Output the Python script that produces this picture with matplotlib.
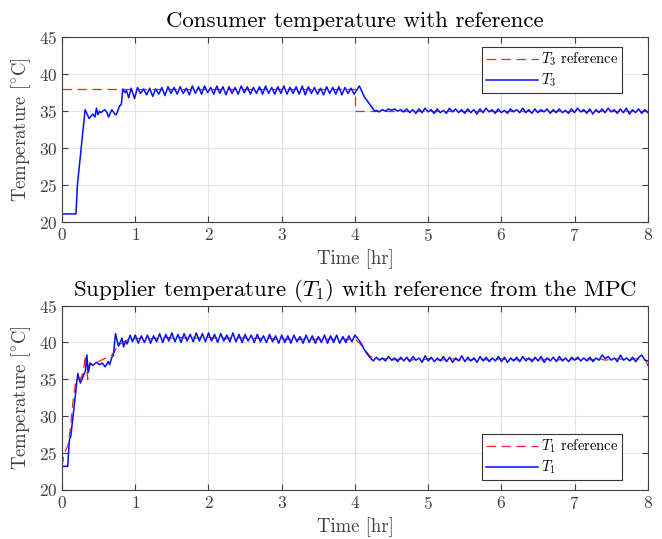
import matplotlib
matplotlib.use("Agg")
import matplotlib.pyplot as plt
import numpy as np

# ---- consumer temperature T3 (top panel) ----
t3_start_t = [0.00, 0.19, 0.21, 0.315, 0.37, 0.42, 0.45, 0.47, 0.49, 0.51, 0.53, 0.58, 0.61,
              0.635, 0.68, 0.72, 0.74, 0.785, 0.81, 0.83, 0.86, 0.88, 0.91, 0.945, 0.99]
t3_start_v = [21.1, 21.1, 25.0, 35.2, 34.0, 34.6, 34.2, 35.4, 34.5, 35.0, 34.8, 35.2, 34.9,
              34.2, 35.2, 34.6, 34.5, 35.7, 35.9, 38.0, 37.5, 37.8, 36.8, 38.1, 36.7]
# sampled every 2.5 min from 1.03 hr
t3_mid_v = [38.2, 37.4, 38.0, 37.2, 38.1, 37.0, 38.0, 37.3, 38.2, 37.1,
            38.3, 37.4, 38.2, 37.3, 38.3, 37.4, 38.1, 37.2, 38.4, 37.4,
            38.3, 37.3, 38.4, 37.5, 38.2, 37.3, 38.4, 37.4, 38.3, 37.2,
            38.3, 37.4, 38.2, 37.3, 38.4, 37.5, 38.3, 37.3, 38.2, 37.4,
            38.3, 37.3, 38.4, 37.4, 38.2, 37.3, 38.3, 37.4, 38.4, 37.3,
            38.2, 37.4, 38.3, 37.3, 38.4, 37.2, 38.3, 37.4, 38.2, 37.3,
            38.1, 37.2, 38.3, 37.4, 38.2, 37.3, 38.3, 37.2, 38.2, 37.4,
            38.1, 37.3]
t3_drop_t = [4.06, 4.13, 4.24, 4.27]
t3_drop_v = [38.4, 36.9, 35.4, 35.0]
# sampled every 2.5 min from 4.29 hr
t3_tail_v = [35.1, 34.9, 35.2, 35.0, 35.3, 35.1, 35.3, 35.0, 35.2, 34.9,
             35.3, 34.8, 35.2, 34.7, 35.3, 34.8, 35.4, 34.9, 35.2, 34.7,
             35.3, 34.8, 35.1, 34.7, 35.4, 34.9, 35.3, 34.8, 35.2, 34.7,
             35.3, 34.8, 35.2, 34.6, 35.3, 34.8, 35.4, 34.9, 35.2, 34.7,
             35.3, 34.8, 35.1, 34.7, 35.3, 34.9, 35.2, 34.8, 35.4, 34.8,
             35.2, 34.7, 35.3, 34.8, 35.2, 34.9, 35.3, 34.7, 35.2, 34.8,
             35.3, 34.8, 35.1, 34.7, 35.3, 34.8, 35.4, 34.9, 35.2, 34.7,
             35.3, 34.6, 35.2, 34.8, 35.3, 34.8, 35.4, 34.9, 35.2, 34.7,
             35.3, 34.8, 35.4, 34.6, 35.2, 34.8, 35.3, 34.7, 35.2, 34.8]
t3_ref_t = [0.0, 4.0, 4.0, 8.0]
t3_ref_v = [38.0, 38.0, 35.0, 35.0]

# ---- supplier temperature T1 (bottom panel) ----
t1_start_t = [0.00, 0.078, 0.10, 0.12, 0.215, 0.25, 0.28, 0.32, 0.34, 0.355, 0.38, 0.42, 0.47, 0.51,
              0.55, 0.59, 0.63, 0.65, 0.68, 0.70, 0.73, 0.77, 0.82, 0.84, 0.87, 0.89, 0.93, 0.96]
t1_start_v = [23.2, 23.2, 26.8, 27.3, 35.8, 34.5, 35.2, 36.2, 38.3, 35.9, 37.2, 36.9, 37.3, 37.0,
              37.2, 36.7, 37.4, 37.0, 38.0, 38.2, 41.2, 39.5, 40.6, 39.4, 40.2, 39.8, 41.0, 40.1]
# sampled every 2.5 min from 1.0 hr
t1_mid_v = [41.0, 39.9, 40.9, 40.0, 41.0, 39.9, 40.9, 40.1, 41.2, 40.0,
            41.1, 40.2, 41.3, 40.1, 41.1, 40.0, 41.2, 40.2, 41.1, 40.1,
            41.3, 40.2, 41.2, 40.1, 41.3, 40.2, 41.1, 40.0, 41.2, 40.2,
            41.0, 40.1, 41.3, 40.1, 41.1, 40.0, 41.1, 40.2, 41.0, 40.0,
            41.1, 40.1, 40.9, 40.0, 41.1, 40.1, 40.9, 39.9, 41.0, 40.0,
            40.9, 39.9, 41.0, 40.1, 40.8, 39.9, 41.0, 40.0, 40.9, 39.9,
            40.8, 40.0, 41.0, 39.9, 40.9, 40.0, 41.0, 39.9, 40.8, 40.0,
            40.9, 40.1, 41.0]
t1_drop_t = [4.05, 4.10, 4.13, 4.17, 4.20, 4.23]
t1_drop_v = [40.4, 39.6, 39.0, 38.4, 38.0, 37.7]
# sampled every 2.5 min from 4.25 hr
t1_tail_v = [37.5, 38.0, 37.6, 37.9, 37.5, 38.1, 37.6, 37.9, 37.4, 38.0,
             37.5, 38.0, 37.4, 38.1, 37.6, 37.9, 37.3, 38.2, 37.5, 38.0,
             37.4, 37.9, 37.5, 38.1, 37.4, 38.0, 37.3, 37.9, 37.5, 38.2,
             37.4, 38.0, 37.5, 37.9, 37.3, 38.1, 37.5, 38.0, 37.4, 37.9,
             37.5, 38.1, 37.4, 38.0, 37.3, 37.9, 37.5, 38.0, 37.4, 38.1,
             37.5, 37.9, 37.4, 38.0, 37.5, 38.1, 37.3, 37.9, 37.5, 38.0,
             37.4, 38.1, 37.5, 37.9, 37.4, 38.0, 37.6, 38.0, 37.5, 37.9,
             37.5, 38.0, 37.4, 37.9, 37.6, 38.3, 37.8, 38.1, 37.6, 37.9,
             37.4, 38.3, 37.6, 37.9, 37.5, 38.0, 37.4, 38.0, 38.3, 37.6, 37.5]

t1r_start_t = [0.00, 0.03, 0.08, 0.11, 0.15, 0.19, 0.25, 0.29, 0.32, 0.35, 0.38, 0.45,
               0.58, 0.65, 0.70, 0.76, 0.83, 0.90, 0.96]
t1r_start_v = [23.2, 25.0, 26.0, 28.0, 32.0, 35.0, 35.0, 36.0, 38.3, 35.0, 36.9, 37.2,
               37.8, 38.0, 38.5, 39.5, 40.0, 40.4, 40.5]
# sampled every 5 min from 1.0 hr
t1r_mid_v = [40.5, 40.6, 40.4, 40.6, 40.5, 40.7, 40.6, 40.7, 40.6, 40.8, 40.6, 40.7,
             40.7, 40.6, 40.7, 40.5, 40.7, 40.6, 40.6, 40.5, 40.6, 40.5, 40.6, 40.4,
             40.5, 40.4, 40.5, 40.4, 40.5, 40.4, 40.5, 40.4, 40.5, 40.4, 40.5, 40.4, 40.5]
t1r_drop_t = [4.10, 4.20, 4.25]
t1r_drop_v = [39.5, 38.2, 37.9]
# sampled every 5 min from 4.33 hr
t1r_tail_v = [37.7, 37.8, 37.6, 37.7, 37.8, 37.6, 37.7, 37.6, 37.8, 37.7, 37.6,
              37.7, 37.8, 37.6, 37.7, 37.6, 37.8, 37.7, 37.6, 37.7, 37.8, 37.6,
              37.7, 37.6, 37.8, 37.7, 37.6, 37.7, 37.8, 37.6, 37.7, 37.6, 37.7,
              37.8, 37.6, 37.7, 37.8, 37.6, 37.7, 37.8, 37.7, 37.6, 37.8, 37.7]
t1r_end_t = [7.97, 8.00]
t1r_end_v = [37.6, 36.8]


def grid(start, step, n):
    return start + step * np.arange(n)


t3_t = np.concatenate([t3_start_t, grid(1.03, 1 / 24, len(t3_mid_v)), t3_drop_t,
                       grid(4.29, 1 / 24, len(t3_tail_v))])
t3_v = np.concatenate([t3_start_v, t3_mid_v, t3_drop_v, t3_tail_v])

t1_t = np.concatenate([t1_start_t, grid(1.0, 1 / 24, len(t1_mid_v)), t1_drop_t,
                       grid(4.25, 1 / 24, len(t1_tail_v))])
t1_v = np.concatenate([t1_start_v, t1_mid_v, t1_drop_v, t1_tail_v])

t1r_t = np.concatenate([t1r_start_t, grid(1.0, 1 / 12, len(t1r_mid_v)), t1r_drop_t,
                        grid(4.25 + 1 / 12, 1 / 12, len(t1r_tail_v)), t1r_end_t])
t1r_v = np.concatenate([t1r_start_v, t1r_mid_v, t1r_drop_v, t1r_tail_v, t1r_end_v])

plt.rcParams['font.family'] = 'serif'
plt.rcParams['font.serif'] = ['cmr10', 'DejaVu Serif']
plt.rcParams['mathtext.fontset'] = 'cm'
plt.rcParams['axes.formatter.use_mathtext'] = True
plt.rcParams['axes.unicode_minus'] = False

fig = plt.figure(figsize=(6.62, 5.39), dpi=100)
ax1 = fig.add_axes([0.0937, 0.588, 0.885, 0.343])
ax2 = fig.add_axes([0.0937, 0.091, 0.885, 0.342])

dash = (0, (7.5, 4.5))

ax1.plot(t3_ref_t, t3_ref_v, color='#ff2020', lw=0.9, ls=dash, label=r'$T_3$ reference')
ax1.plot(t3_t, t3_v, color='#0010ff', lw=1.1, label=r'$T_3$')
ax1.set_title('Consumer temperature with reference', fontsize=16.5, pad=7)

ax2.plot(t1r_t, t1r_v, color='#ff2020', lw=0.9, ls=dash, label=r'$T_1$ reference')
ax2.plot(t1_t, t1_v, color='#0010ff', lw=1.1, label=r'$T_1$')
ax2.set_title(r'Supplier temperature ($T_1$) with reference from the MPC', fontsize=16.5, pad=7)

legend_pos = ((ax1, 'upper right', (0.9556, 0.946)),
              (ax2, 'lower right', (0.9556, 0.054)))
for ax, loc, anchor in legend_pos:
    ax.set_xlim(0, 8)
    ax.set_ylim(20, 45)
    ax.set_xticks(range(0, 9))
    ax.set_yticks(range(20, 46, 5))
    ax.grid(True, color='#e3e3e3', lw=0.8)
    ax.set_axisbelow(True)
    ax.tick_params(direction='in', top=True, right=True, length=4, width=0.8,
                   labelsize=12.5, colors='#404040', labelcolor='#404040')
    for s in ax.spines.values():
        s.set_color('#404040')
        s.set_linewidth(0.8)
    ax.set_xlabel('Time [hr]', fontsize=13.5, color='#404040')
    ax.set_ylabel(r'Temperature [$^{\circ}$C]', fontsize=13.5, color='#404040')
    leg = ax.legend(loc=loc, bbox_to_anchor=anchor, fontsize=10.5, fancybox=False,
                    framealpha=1, edgecolor='#333333', handlelength=3.6, borderaxespad=0,
                    labelspacing=0.25, handletextpad=0.2, borderpad=0.25)
    leg.get_frame().set_linewidth(0.8)

fig.savefig('out.png', dpi=100)
